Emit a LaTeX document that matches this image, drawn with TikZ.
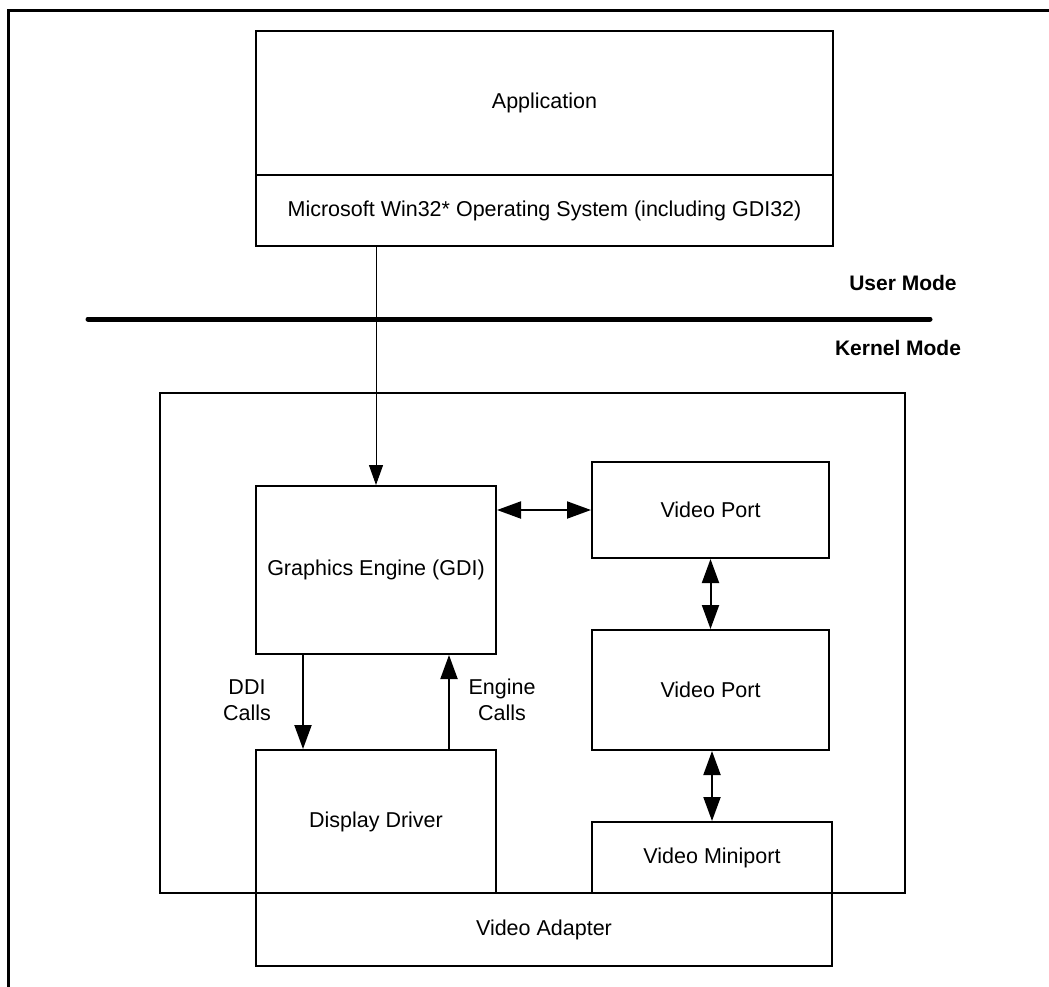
\documentclass[tikz,border=0pt]{standalone}
\usepackage{fontspec}
\setmainfont{Liberation Sans}
\usetikzlibrary{arrows.meta,calc}
\begin{document}
\begin{tikzpicture}[x=1pt,y=-1pt,
  box/.style={draw,line width=2pt,inner sep=0pt,minimum width=#1},
  lbl/.style={font=\fontsize{21.5}{25.5}\selectfont,align=center,inner sep=0pt},
  modelbl/.style={font=\fontsize{21}{25}\selectfont\bfseries,inner sep=0pt},
  thinarr/.style={line width=1pt,-{Triangle[length=20pt,width=14pt]}},
  dbl/.style={line width=2pt,{Triangle[length=24pt,width=17pt]}-{Triangle[length=24pt,width=17pt]}},
  onearr/.style={line width=2pt,-{Triangle[length=24pt,width=17pt]}}]
\useasboundingbox (0,0) rectangle (1049,986);
% outer frame (top and left edges)
\draw[line width=3pt] (8,1049) -- (8,10) -- (1049,10);
% kernel box
\node[box=745pt,minimum height=500pt] (kernel) at (532.5,643) {};
% application
\node[box=577pt,minimum height=144pt,lbl] (app) at (544.5,103) {Application};
\node[box=577pt,minimum height=71pt,lbl] (os) at (544.5,210.5) {Microsoft Win32* Operating System (including GDI32)};
% user / kernel divider
\coordinate (divL) at (88,319);
\coordinate (divR) at (930,319);
\draw[line width=5pt,line cap=round] (divL) -- (divR);
\node[modelbl] (user) at (903,283) {User Mode};
\node[modelbl] (kmode) at (898,348) {Kernel Mode};
% kernel components
\node[box=240pt,minimum height=168pt,lbl] (gdi) at (376,570) {Graphics Engine (GDI)};
\node[box=237pt,minimum height=96pt,lbl] (vp1) at (710.5,510) {Video Port};
\node[box=237pt,minimum height=120pt,lbl] (vp2) at (710.5,690) {Video Port};
\node[box=240pt,minimum height=143pt,lbl] (dd) at (376,821.5) {Display Driver};
\node[box=240pt,minimum height=71pt,lbl] (mini) at (712,857.5) {Video Miniport};
\node[box=576pt,minimum height=73pt,lbl] (adapter) at (544,929.5) {Video Adapter};
% connectors
\draw[thinarr] (os.south -| gdi.north) -- (gdi.north);
\draw[dbl] (gdi.east |- vp1.west) -- (vp1.west);
\draw[dbl] (vp1.south) -- (vp2.north);
\draw[dbl] (vp2.south -| mini.north) -- (mini.north);
\draw[onearr] ($(gdi.south west)+(48,0)$) -- ($(dd.north west)+(48,0)$);
\draw[onearr] ($(dd.north east)+(-48,0)$) -- ($(gdi.south east)+(-48,0)$);
\node[lbl] (ddi) at (247,700) {DDI\\Calls};
\node[lbl] (eng) at (502,700) {Engine\\Calls};
\end{tikzpicture}
\end{document}
